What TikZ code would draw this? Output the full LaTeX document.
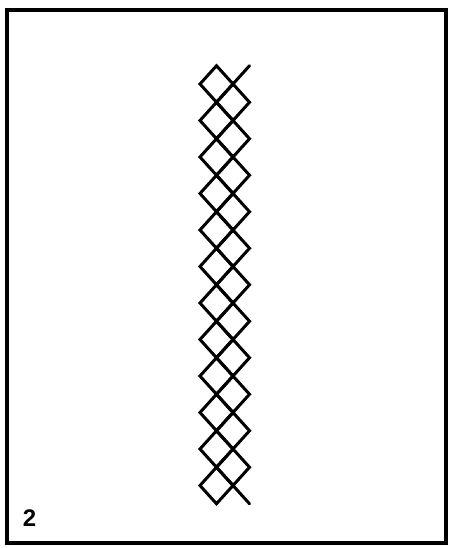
\documentclass[tikz,border=0pt]{standalone}
\usepackage{fontspec}
\setmainfont{Liberation Sans}
\begin{document}
\begin{tikzpicture}[x=1pt,y=-1pt,
  frame/.style={line width=3.5pt},
  chain/.style={line width=3pt,line join=miter},
  label/.style={font=\bfseries\fontsize{24}{24}\selectfont,inner sep=0pt}]
\useasboundingbox (0,0) rectangle (451,548);
\fill[white] (0,0) rectangle (451,548);
\draw[frame] (7,10) rectangle (446,543);
% left column squares
\foreach \k in {0,...,11}{
  \pgfmathsetmacro{\cy}{84+36.5*\k}
  \draw[chain] (200,\cy) -- (216.5,\cy-18.25) -- (233,\cy) -- (216.5,\cy+18.25) -- cycle;
}
% right column squares
\foreach \k in {0,...,10}{
  \pgfmathsetmacro{\cy}{102.25+36.5*\k}
  \draw[chain] (216.5,\cy) -- (233,\cy-18.25) -- (249.5,\cy) -- (233,\cy+18.25) -- cycle;
}
% tails
\coordinate (t1) at (233,84);
\coordinate (t2) at (249.5,65.75);
\coordinate (b1) at (233,485.5);
\coordinate (b2) at (249.5,503.75);
\draw[chain,line cap=round] (t1) -- (t2);
\draw[chain,line cap=round] (b1) -- (b2);
\node[label] (num) at (29.5,518.5) {2};
\end{tikzpicture}
\end{document}
